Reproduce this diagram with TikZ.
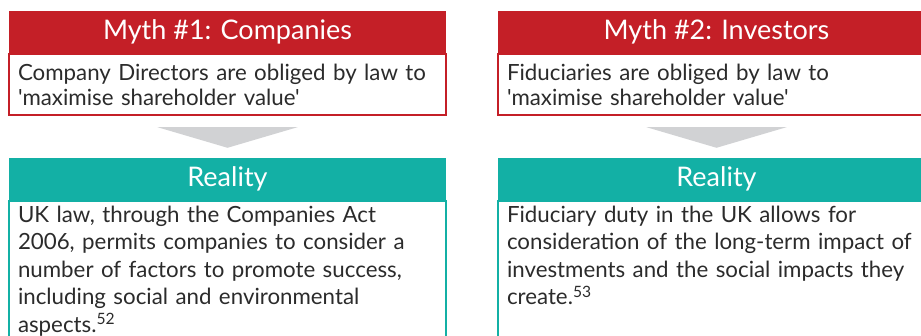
\documentclass[tikz,border=0pt]{standalone}
\usepackage{fontspec}
\setmainfont{Lato}[Ligatures=TeXOff]
\usetikzlibrary{positioning,calc}
\definecolor{mythred}{HTML}{C41F27}
\definecolor{realteal}{HTML}{13B0A5}
\definecolor{arrowgray}{HTML}{D1D2D4}
\definecolor{bodytext}{HTML}{2B2B2B}
\tikzset{
  head/.style={minimum width=437pt, minimum height=42pt, inner sep=0pt,
               text=white, font=\fontsize{27}{30}\selectfont},
  mythhead/.style={head, fill=mythred},
  realhead/.style={head, fill=realteal},
  body/.style={line width=2pt, text width=419pt, inner xsep=9pt, align=left,
               text=bodytext, font=\fontsize{22.3}{25}\selectfont},
  mythbody/.style={body, draw=mythred, minimum height=61pt},
  realbody/.style={body, draw=realteal, inner ysep=4.5pt,
                   font=\fontsize{22.3}{27.6}\selectfont},
  downarrow/.style={fill=arrowgray},
}
\begin{document}
\begin{tikzpicture}[x=1pt,y=-1pt]
  \useasboundingbox (0,0) rectangle (921,336);
  % left column
  \node[mythhead] (myth1) at (227.5,32) {Myth \#1: Companies};
  \node[mythbody, below=0pt of myth1] (myth1body)
    {Company Directors are obliged by law to\\'maximise shareholder value'};
  \node[realhead] (real1) at (227.5,179) {Reality};
  \node[realbody, below=0pt of real1] (real1body)
    {\parbox[t][150pt][t]{419pt}{UK law, through the Companies Act\\2006, permits companies to consider a\\number of factors to promote success,\\including social and environmental\\aspects.\textsuperscript{52}}};
  % right column
  \node[mythhead] (myth2) at (716.5,32) {Myth \#2: Investors};
  \node[mythbody, below=0pt of myth2] (myth2body)
    {Fiduciaries are obliged by law to\\'maximise shareholder value'};
  \node[realhead] (real2) at (716.5,179) {Reality};
  \node[realbody, below=0pt of real2] (real2body)
    {\parbox[t][150pt][t]{419pt}{Fiduciary duty in the UK allows for\\consideration of the long-term impact of\\investments and the social impacts they\\create.\textsuperscript{53}}};
  % arrows
  \foreach \a/\b in {myth1body/real1,myth2body/real2}
    \fill[downarrow] ($(\a.south)+(-70,11)$) -- ($(\a.south)+(70,11)$)
      -- ($(\b.north)+(0,-10)$) -- cycle;
\end{tikzpicture}
\end{document}
